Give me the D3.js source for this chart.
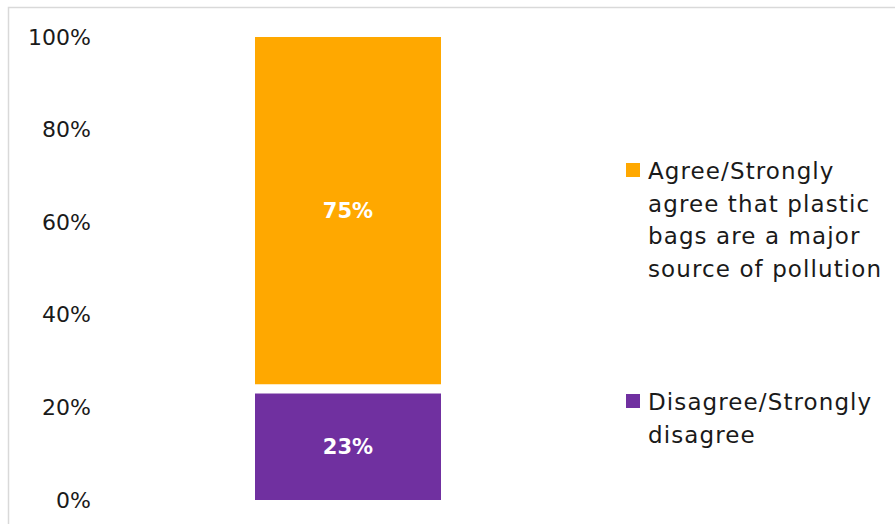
<!DOCTYPE html>
<html>
<head>
<meta charset="utf-8">
<script src="https://cdn.jsdelivr.net/npm/d3@7"></script>
<style>
  html, body { margin: 0; padding: 0; background: #ffffff; }
  svg { display: block; }
  text { font-family: "Century Gothic", "DejaVu Sans", sans-serif; }
</style>
</head>
<body>
<svg id="chart" width="895" height="524"></svg>
<script>
// Survey response shares, stacked bottom-to-top
const categories = ["Respondents"];
const seriesNames = ["Disagree/Strongly disagree", "Neither/Don't know", "Agree/Strongly agree that plastic bags are a major source of pollution"];
const seriesValues = [23, 2, 75];
const seriesColors = ["#7030a0", "none", "#ffa800"];
const labelledSeries = [true, false, true];
const legendLines = [
  ["Agree/Strongly", "agree that plastic", "bags are a major", "source of pollution"],
  ["Disagree/Strongly", "disagree"]
];
const legendColors = ["#ffa800", "#7030a0"];
const tickValues = [0, 20, 40, 60, 80, 100];
const tickLabels = ["0%", "20%", "40%", "60%", "80%", "100%"];

const svg = d3.select("#chart");

// Chart frame
svg.append("path")
  .attr("d", "M8.5,524 V7.5 H895")
  .attr("fill", "none")
  .attr("stroke", "#d9d9d9")
  .attr("stroke-width", 1.5);

const y = d3.scaleLinear().domain([0, 100]).range([500, 37]);
const x = d3.scaleBand().domain(categories).range([162, 534]).paddingInner(0).paddingOuter(0.5);

// Y axis: labels only
const yAxis = d3.axisLeft(y)
  .tickValues(tickValues)
  .tickFormat((d, i) => tickLabels[i])
  .tickSize(0)
  .tickPadding(0);
const ag = svg.append("g").attr("transform", "translate(91,0)").call(yAxis);
ag.select(".domain").remove();
ag.selectAll("text")
  .attr("fill", "#1a1a1a")
  .style("font-size", "22px")
  .style("font-family", "\"Century Gothic\", \"DejaVu Sans\", sans-serif");

// Stacked segments
const rows = categories.map(c => {
  const r = { category: c };
  seriesNames.forEach((n, i) => { r[n] = seriesValues[i]; });
  return r;
});
const stacked = d3.stack().keys(seriesNames)(rows);

const layers = svg.append("g").selectAll("g")
  .data(stacked)
  .join("g")
  .attr("fill", (d, i) => seriesColors[i]);

layers.selectAll("rect")
  .data(d => d.map(v => v))
  .join("rect")
  .attr("x", d => x(d.data.category))
  .attr("width", x.bandwidth())
  .attr("y", d => y(d[1]))
  .attr("height", d => y(d[0]) - y(d[1]));

// Value labels
stacked.forEach((layer, i) => {
  if (!labelledSeries[i]) return;
  layer.forEach(d => {
    svg.append("text")
      .attr("x", x(d.data.category) + x.bandwidth() / 2)
      .attr("y", (y(d[0]) + y(d[1])) / 2)
      .attr("dy", "0.36em")
      .attr("text-anchor", "middle")
      .attr("fill", "#ffffff")
      .style("font-size", "21px")
      .style("font-weight", "bold")
      .text(seriesValues[i] + "%");
  });
});

// Legend
const legendTops = [179, 410];
const lineGap = 32.5;
legendLines.forEach((lines, i) => {
  const g = svg.append("g");
  g.append("rect")
    .attr("x", 626)
    .attr("y", legendTops[i] - 16)
    .attr("width", 14)
    .attr("height", 14)
    .attr("fill", legendColors[i]);
  lines.forEach((ln, j) => {
    g.append("text")
      .attr("x", 648)
      .attr("y", legendTops[i] + j * lineGap)
      .attr("fill", "#1a1a1a")
      .style("font-size", "23px")
      .style("letter-spacing", "1.1px")
      .text(ln);
  });
});
</script>
</body>
</html>
